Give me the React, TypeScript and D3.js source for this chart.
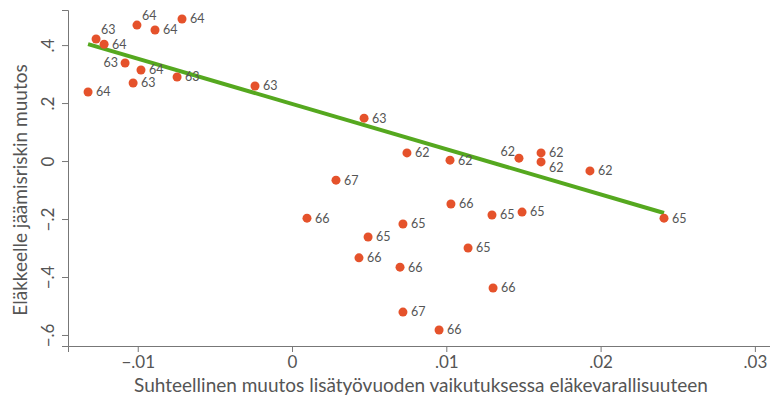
import { useEffect, useRef } from 'react';
import * as d3 from 'd3';

// relative change in the value of an extra work year (x) vs change in retirement risk (y)
const xValues = [
  -0.0127, -0.01218, -0.01005, -0.00888, -0.00713, -0.01082, -0.00979, -0.00745,
  -0.0103, -0.01322, -0.0024, 0.00467, 0.00745, 0.01024, 0.00285, 0.00097,
  0.01471, 0.01614, 0.01614, 0.01931, 0.02411, 0.0103, 0.01296, 0.01491,
  0.00719, 0.00493, 0.01141, 0.00434, 0.007, 0.01303, 0.00719, 0.00953,
];
const yValues = [
  0.421, 0.403, 0.469, 0.452, 0.49, 0.338, 0.314, 0.29,
  0.269, 0.238, 0.259, 0.148, 0.028, 0.003, -0.066, -0.197,
  0.01, 0.028, -0.003, -0.034, -0.197, -0.148, -0.186, -0.176,
  -0.217, -0.262, -0.3, -0.334, -0.366, -0.438, -0.521, -0.583,
];
const ages = [
  '63', '64', '64', '64', '64', '63', '64', '63',
  '63', '64', '63', '63', '62', '62', '67', '66',
  '62', '62', '62', '62', '65', '66', '65', '65',
  '65', '65', '65', '66', '66', '66', '67', '66',
];
// marker label clock position (3 = right of the dot)
const labelClock = [
  1, 3, 1, 3, 3, 9, 3, 3,
  3, 3, 3, 3, 3, 3, 3, 3,
  11, 3, 4, 3, 3, 3, 3, 3,
  3, 3, 3, 3, 3, 3, 3, 3,
];

const xTicks = [-0.01, 0, 0.01, 0.02, 0.03];
const yTicks = [-0.6, -0.4, -0.2, 0, 0.2, 0.4];

const fitIntercept = 0.197;
const fitSlope = -15.6;

const xTitle = 'Suhteellinen muutos lisätyövuoden vaikutuksessa eläkevarallisuuteen';
const yTitle = 'Eläkkeelle jäämisriskin muutos';

const fmt = (v: number) => (v === 0 ? '0' : d3.format('.2~f')(v).replace('0.', '.'));

function App() {
  const width = 770;
  const height = 400;
  const left = 68;
  const bottom = 346;
  const top = 10;
  const font = 'Lato, "Open Sans", sans-serif';
  const textColor = '#555';
  const axisColor = '#777';

  const svgRef = useRef<SVGSVGElement>(null);

  useEffect(() => {
    const svg = d3.select(svgRef.current);
    svg.selectAll('*').remove();

    const x = d3.scaleLinear().domain([-0.01452, 0.03098]).range([left, width]);
    const y = d3.scaleLinear().domain([-0.638, 0.521]).range([bottom, top]);

    // x axis
    const xAxis = d3.axisBottom(x).tickValues(xTicks).tickSize(6).tickPadding(4).tickFormat((d) => fmt(+d));
    const gx = svg.append('g').attr('transform', `translate(0,${bottom})`).call(xAxis);
    gx.select('.domain').attr('stroke', axisColor);
    gx.selectAll('.tick line').attr('stroke', axisColor);
    gx.selectAll('.tick text')
      .attr('fill', textColor)
      .attr('font-family', font)
      .attr('font-size', 17);

    // y axis
    const yAxis = d3.axisLeft(y).tickValues(yTicks).tickSize(6).tickFormat((d) => fmt(+d));
    const gy = svg.append('g').attr('transform', `translate(${left},0)`).call(yAxis);
    gy.select('.domain').attr('stroke', axisColor);
    gy.selectAll('.tick line').attr('stroke', axisColor);
    gy.selectAll('.tick text')
      .attr('fill', textColor)
      .attr('font-family', font)
      .attr('font-size', 17)
      .attr('x', null)
      .attr('dy', null)
      .attr('text-anchor', 'middle')
      .attr('transform', 'translate(-14,0) rotate(-90)');

    // fitted line
    const [xMin, xMax] = d3.extent(xValues) as [number, number];
    const line = d3
      .line<number>()
      .x((d) => x(d))
      .y((d) => y(fitIntercept + fitSlope * d));
    svg
      .append('path')
      .attr('d', line([xMin, xMax]))
      .attr('fill', 'none')
      .attr('stroke', '#55a81f')
      .attr('stroke-width', 4);

    // points
    const pts = xValues.map((v, i) => ({ x: v, y: yValues[i], label: ages[i], clock: labelClock[i] }));
    svg
      .append('g')
      .selectAll('circle')
      .data(pts)
      .join('circle')
      .attr('cx', (d) => x(d.x))
      .attr('cy', (d) => y(d.y))
      .attr('r', 4.5)
      .attr('fill', '#e5522b');

    const off = (c: number) => {
      if (c === 1) return { dx: 5, dy: -9, anchor: 'start' };
      if (c === 9) return { dx: -7, dy: 0, anchor: 'end' };
      if (c === 11) return { dx: -4, dy: -7, anchor: 'end' };
      if (c === 4) return { dx: 8, dy: 6, anchor: 'start' };
      return { dx: 8, dy: 0, anchor: 'start' };
    };

    svg
      .append('g')
      .selectAll('text')
      .data(pts)
      .join('text')
      .attr('x', (d) => x(d.x) + off(d.clock).dx)
      .attr('y', (d) => y(d.y) + off(d.clock).dy)
      .attr('dy', '0.35em')
      .attr('text-anchor', (d) => off(d.clock).anchor)
      .attr('font-family', font)
      .attr('font-size', 12.5)
      .attr('fill', textColor)
      .text((d) => d.label);

    // titles
    svg
      .append('text')
      .attr('x', 421)
      .attr('y', 392)
      .attr('text-anchor', 'middle')
      .attr('font-family', font)
      .attr('font-size', 19)
      .attr('fill', textColor)
      .text(xTitle);

    svg
      .append('text')
      .attr('transform', 'translate(27,190) rotate(-90)')
      .attr('text-anchor', 'middle')
      .attr('font-family', font)
      .attr('font-size', 19)
      .attr('fill', textColor)
      .text(yTitle);
  }, []);

  return (
    <div style={{ position: 'absolute', left: 0, top: 0 }}>
      <svg ref={svgRef} width={width} height={height} style={{ display: 'block', background: '#fff' }} />
    </div>
  );
}

export default App;
